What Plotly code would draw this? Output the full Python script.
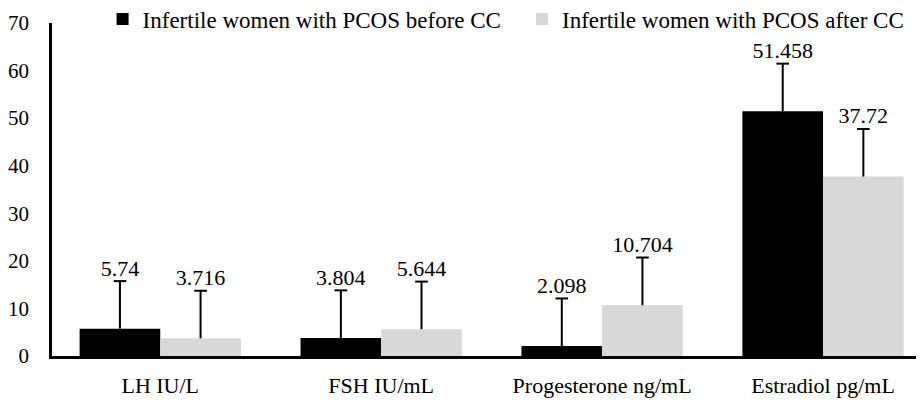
import plotly.graph_objects as go

categories = ["LH IU/L", "FSH IU/mL", "Progesterone ng/mL", "Estradiol pg/mL"]
before_vals = [5.74, 3.804, 2.098, 51.458]
after_vals = [3.716, 5.644, 10.704, 37.72]
before_err = [10, 10, 10, 10]
after_err = [10, 10, 10, 10]
before_labels = ["5.74", "3.804", "2.098", "51.458"]
after_labels = ["3.716", "5.644", "10.704", "37.72"]
series_names = ["Infertile women with PCOS before CC", "Infertile women with PCOS after CC"]
y_ticks = [0, 10, 20, 30, 40, 50, 60, 70]

FONT = "Liberation Serif, Times New Roman, serif"
BLACK = "#000000"
GRAY = "#d8d8d8"

fig = go.Figure()
series = [
    (before_vals, before_err, before_labels, series_names[0], BLACK, "b", "legend"),
    (after_vals, after_err, after_labels, series_names[1], GRAY, "a", "legend2"),
]
for vals, errs, labels, name, color, grp, leg in series:
    fig.add_trace(go.Bar(
        x=categories, y=vals, name=name, legend=leg,
        marker=dict(color=color, line=dict(width=0)),
        error_y=dict(type="data", symmetric=False, array=errs,
                     arrayminus=[0] * len(errs), color=BLACK,
                     thickness=2, width=0),
        offsetgroup=grp,
    ))
for vals, errs, labels, name, color, grp, leg in series:
    tops = [v + e for v, e in zip(vals, errs)]
    # error-bar caps (top only)
    fig.add_trace(go.Scatter(
        x=categories, y=tops, mode="markers", showlegend=False,
        marker=dict(symbol="line-ew", size=9, line=dict(width=2, color=BLACK)),
        offsetgroup=grp, hoverinfo="skip",
    ))
    # value labels
    fig.add_trace(go.Scatter(
        x=categories, y=tops, mode="text", showlegend=False,
        text=labels, textposition="top center",
        textfont=dict(family=FONT, size=22, color=BLACK),
        offsetgroup=grp, hoverinfo="skip",
    ))

leg_common = dict(orientation="h", yanchor="middle", y=1.012, xanchor="left",
                  font=dict(family=FONT, size=23, color=BLACK),
                  itemwidth=30, bgcolor="rgba(0,0,0,0)")
fig.update_layout(
    width=916, height=395,
    margin=dict(l=44, r=0, t=15, b=47, autoexpand=False),
    plot_bgcolor="white", paper_bgcolor="white",
    barmode="group", bargap=0.27, bargroupgap=0,
    scattermode="group", scattergap=0.27,
    font=dict(family=FONT, size=21, color=BLACK),
    showlegend=True,
    legend=dict(x=0.058, **leg_common),
    legend2=dict(x=0.539, **leg_common),
)
fig.update_xaxes(
    range=[-0.49, 3.457], showline=True, linecolor=BLACK, linewidth=2.5,
    ticks="outside", ticklen=8, tickcolor="rgba(0,0,0,0)", automargin=False,
    tickfont=dict(family=FONT, size=22, color=BLACK), showgrid=False,
)
fig.update_yaxes(
    range=[0, 70], tickvals=y_ticks, showline=True, linecolor=BLACK, linewidth=2.5,
    ticks="outside", ticklen=16, tickcolor="rgba(0,0,0,0)", automargin=False,
    tickfont=dict(family=FONT, size=21, color=BLACK), showgrid=False, zeroline=False,
)

fig.write_html("out.html")
